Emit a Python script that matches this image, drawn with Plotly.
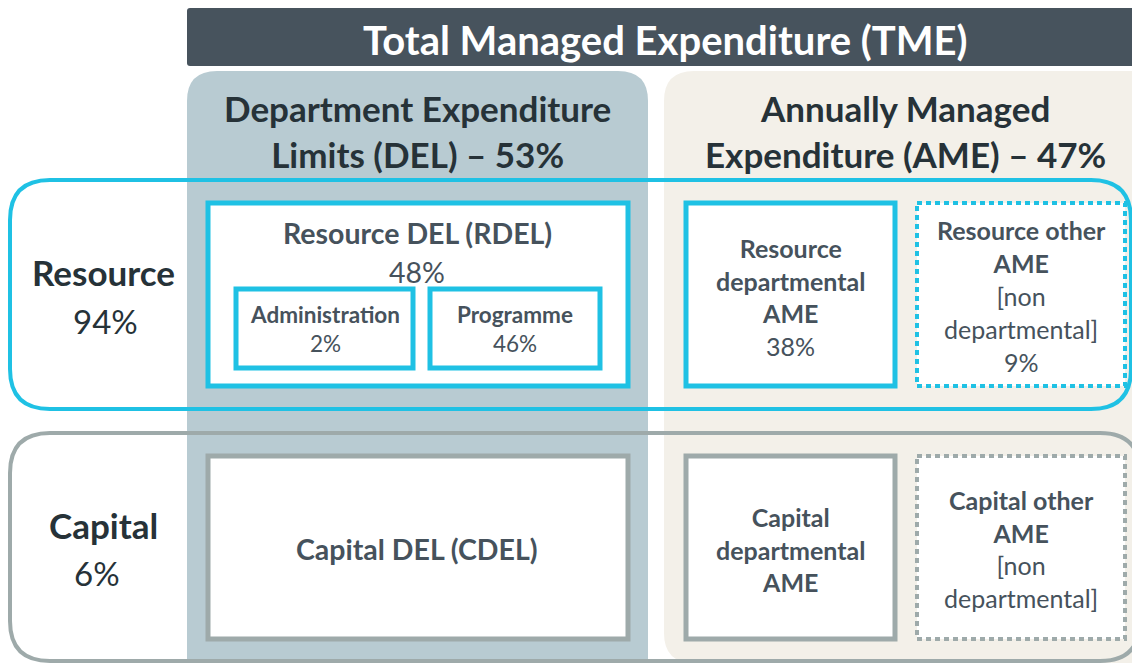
import plotly.graph_objects as go

# ---- data (text content) ----
title_text = "Total Managed Expenditure (TME)"
column_titles = ["Department Expenditure<br>Limits (DEL) – 53%", "Annually Managed<br>Expenditure (AME) – 47%"]
row_names = ["Resource", "Capital"]
row_shares = ["94%", "6%"]
rdel_name = "Resource DEL (RDEL)"
rdel_share = "48%"
rdel_sub_names = ["Administration", "Programme"]
rdel_sub_shares = ["2%", "46%"]
ame_res_names = ["Resource<br>departmental<br>AME", "Resource other<br>AME"]
ame_res_notes = ["", "[non<br>departmental]"]
ame_res_shares = ["38%", "9%"]
cdel_name = "Capital DEL (CDEL)"
ame_cap_names = ["Capital<br>departmental<br>AME", "Capital other<br>AME"]
ame_cap_notes = ["", "[non<br>departmental]"]

# ---- styles ----
W, H = 1132, 663
FONT = "Lato"
DARK = "#263238"
TXT = "#46525c"
HEADER = "#47535d"
DEL_BG = "#b8cbd2"
AME_BG = "#f3f0e9"
CYAN = "#1fc1e4"
GREY = "#9eaaaa"


def rrect(x0, y0, x1, y1, r):
    return (f"M {x0+r},{y0} L {x1-r},{y0} Q {x1},{y0} {x1},{y0+r} "
            f"L {x1},{y1-r} Q {x1},{y1} {x1-r},{y1} L {x0+r},{y1} "
            f"Q {x0},{y1} {x0},{y1-r} L {x0},{y0+r} Q {x0},{y0} {x0+r},{y0} Z")


shapes = []


def add_path(path, fill=None, line=None, width=0, dash="solid"):
    shapes.append(dict(type="path", path=path, xref="x", yref="y", layer="above",
                       fillcolor=fill if fill else "rgba(0,0,0,0)",
                       line=dict(color=line if line else "rgba(0,0,0,0)", width=width, dash=dash)))


def add_rect(x0, y0, x1, y1, fill=None, line=None, width=0, dash="solid"):
    shapes.append(dict(type="rect", x0=x0, y0=y0, x1=x1, y1=y1, xref="x", yref="y", layer="above",
                       fillcolor=fill if fill else "rgba(0,0,0,0)",
                       line=dict(color=line if line else "rgba(0,0,0,0)", width=width, dash=dash)))


# header bar
add_path(rrect(187, 8, 1140, 66, 3), fill=HEADER)
# column panels
add_path(rrect(187, 71, 648, 700, 30), fill=DEL_BG)
add_path(rrect(664, 71, 1170, 663, 30), fill=AME_BG)
# row outlines
add_path(rrect(10, 180, 1131, 409, 40), line=CYAN, width=4)
add_path(rrect(10, 433, 1140, 661, 40), line=GREY, width=4)
# resource boxes
add_rect(208, 203, 628, 386, fill="white", line=CYAN, width=5)
add_rect(236, 289, 413, 368, fill="white", line=CYAN, width=5)
add_rect(430, 289, 600, 368, fill="white", line=CYAN, width=5)
add_rect(686, 203, 895, 386, fill="white", line=CYAN, width=5)
add_rect(917, 203, 1125, 386, fill="white", line=CYAN, width=4, dash="5px,4px")
# capital boxes
add_rect(208, 456, 628, 639, fill="white", line=GREY, width=5)
add_rect(686, 456, 895, 639, fill="white", line=GREY, width=5)
add_rect(917, 456, 1125, 639, fill="white", line=GREY, width=4, dash="5px,4px")

ann = []


def text(x, y, s, size, color, bold=False):
    ann.append(dict(x=x, y=y, xref="x", yref="y", text=(f"<b>{s}</b>" if bold else s),
                    showarrow=False, xanchor="center", yanchor="middle",
                    font=dict(family=FONT, size=size, color=color), align="center"))


text(665, 40, title_text, 40, "white", bold=True)
text(417, 131, column_titles[0], 35, DARK, bold=True)
text(905, 131, column_titles[1], 35, DARK, bold=True)
text(103, 272, row_names[0], 35, DARK, bold=True)
text(105, 321, row_shares[0], 33, DARK)
text(103, 525, row_names[1], 35, DARK, bold=True)
text(97, 573, row_shares[1], 33, DARK)

text(417, 233, rdel_name, 28.5, TXT, bold=True)
text(417, 272, rdel_share, 28.5, TXT)
text(325, 314, rdel_sub_names[0], 22.5, TXT, bold=True)
text(325, 343, rdel_sub_shares[0], 22.5, TXT)
text(515, 314, rdel_sub_names[1], 22.5, TXT, bold=True)
text(515, 343, rdel_sub_shares[1], 22.5, TXT)

text(790, 280, ame_res_names[0], 25, TXT, bold=True)
text(790, 346, ame_res_shares[0], 25, TXT)
text(1021, 246.5, ame_res_names[1], 25, TXT, bold=True)
text(1021, 312.5, ame_res_notes[1], 25, TXT)
text(1021, 362, ame_res_shares[1], 25, TXT)

text(417, 549, cdel_name, 28.5, TXT, bold=True)
text(790, 549, ame_cap_names[0], 25, TXT, bold=True)
text(1021, 516.5, ame_cap_names[1], 25, TXT, bold=True)
text(1021, 581, ame_cap_notes[1], 25, TXT)

fig = go.Figure()
fig.update_layout(
    width=W, height=H, margin=dict(l=0, r=0, t=0, b=0),
    paper_bgcolor="white", plot_bgcolor="white",
    xaxis=dict(range=[0, W], visible=False, fixedrange=True),
    yaxis=dict(range=[H, 0], visible=False, fixedrange=True),
    shapes=shapes, annotations=ann, showlegend=False,
)
fig.write_html("out.html", config={"displayModeBar": False},
               post_script="document.body.style.margin='0px';document.body.style.padding='0px';")
